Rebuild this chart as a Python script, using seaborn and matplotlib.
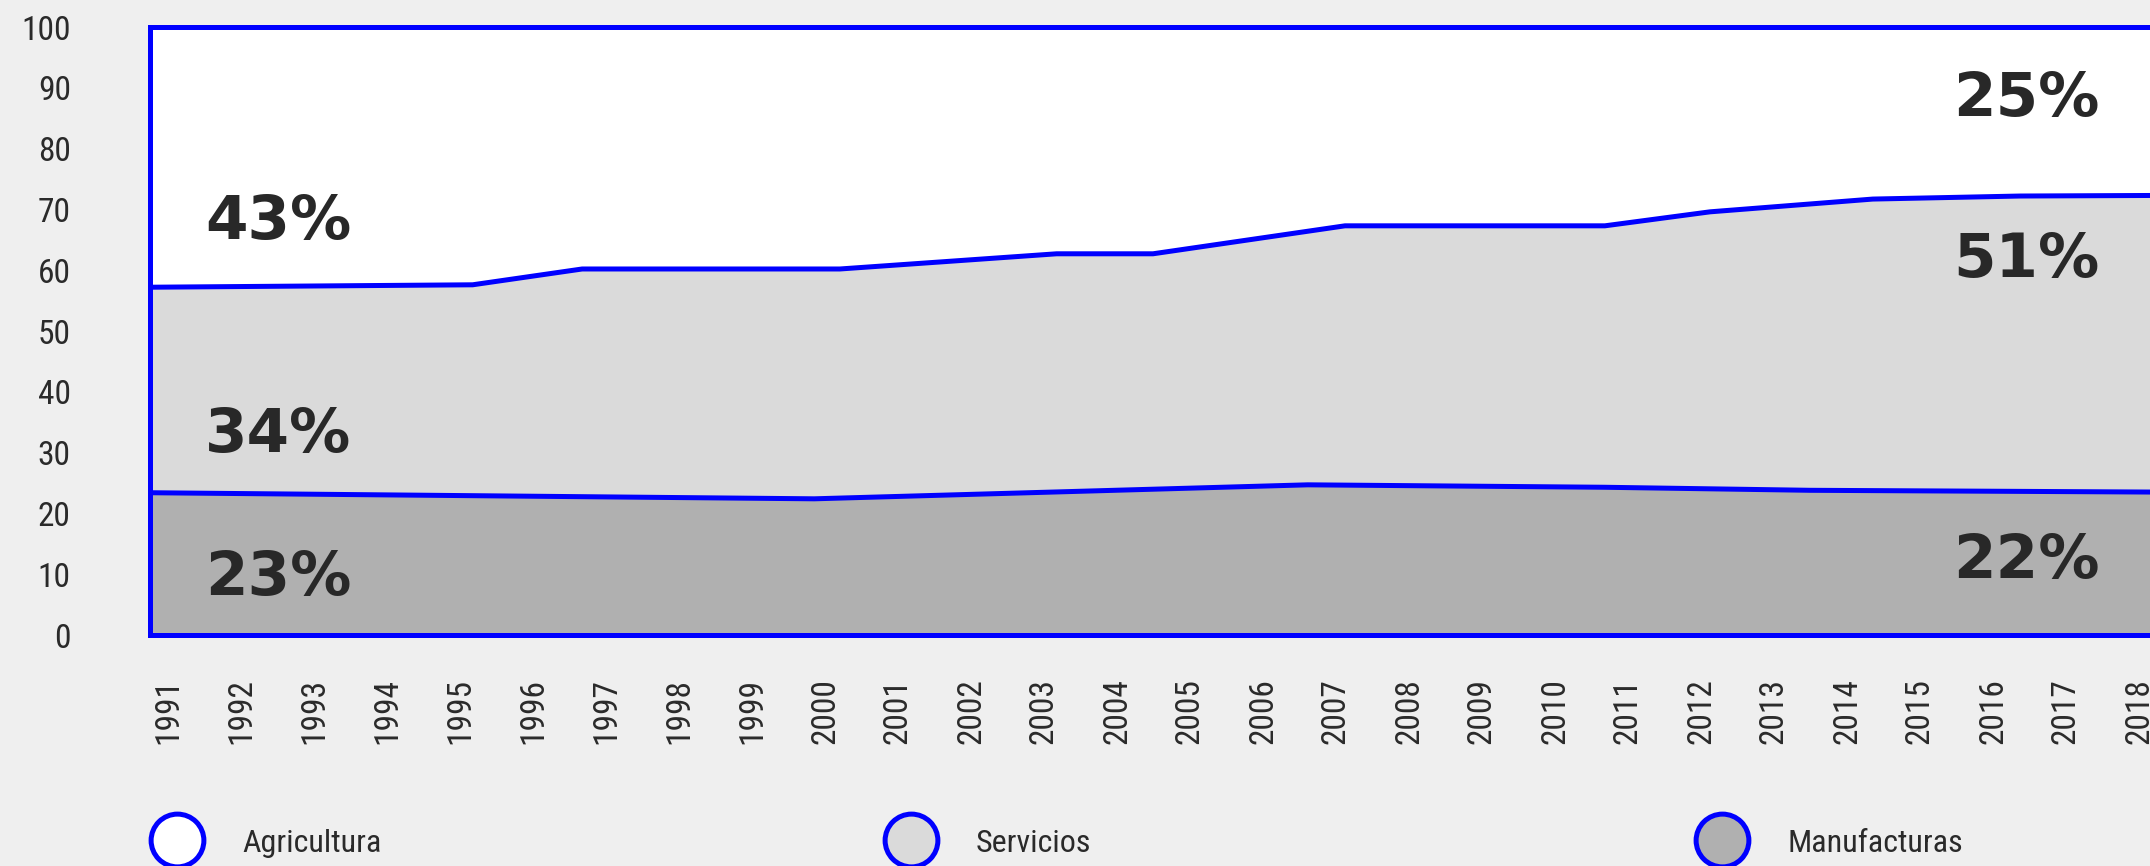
import matplotlib
matplotlib.use("Agg")
import matplotlib.pyplot as plt
import matplotlib.transforms as mtransforms
from matplotlib.lines import Line2D
from matplotlib import font_manager as fm
import seaborn as sns

# Horizontal axis: one label per year
years = list(range(1991, 2019))
y_ticks = list(range(0, 101, 10))

# Upper boundary: Manufacturas + Servicios (% of total); Agricultura fills up to 100
upper_years = [1991.0, 1995.42, 1996.92, 2000.45, 2003.42, 2004.74,
               2007.37, 2010.93, 2012.37, 2014.60, 2016.62, 2018.6]
upper_share = [57.2, 57.6, 60.2, 60.2, 62.7, 62.7,
               67.3, 67.3, 69.6, 71.7, 72.2, 72.3]

# Lower boundary: Manufacturas (% of total)
manuf_years = [1991.0, 2000.10, 2006.86, 2010.92, 2013.74, 2018.6]
manuf_share = [23.4, 22.4, 24.7, 24.3, 23.8, 23.5]

sectors = ["Agricultura", "Servicios", "Manufacturas"]
sector_colors = ["#ffffff", "#dadada", "#b0b0b0"]

# Sector shares printed at the start and at the end of the period
start_labels = ["43%", "34%", "23%"]
end_labels = ["25%", "51%", "22%"]

BLUE = "#0000ff"
INK = "#2a2a2a"
BG = "#efefef"

sns.set_theme(style="white")

# Pick a narrow face for the axis and legend text when one is installed
entries = fm.fontManager.ttflist
names = {f.name for f in entries}
narrow_family, narrow_stretch = None, "normal"
for cand in ["Roboto Condensed", "Liberation Sans Narrow", "Open Sans Condensed",
             "DejaVu Sans Condensed", "Noto Sans Condensed"]:
    if cand in names:
        narrow_family = cand
        break
if narrow_family is None:
    for fam in ["Roboto", "Open Sans", "Noto Sans", "DejaVu Sans"]:
        if any(f.name == fam and "condensed" in str(f.stretch) for f in entries):
            narrow_family, narrow_stretch = fam, "condensed"
            break
if narrow_family is None:
    narrow_family = "Liberation Sans"

plt.rcParams["font.family"] = [narrow_family, "DejaVu Sans"]

AXIS_PT = 24
LEGEND_PT = 23
axis_fp = fm.FontProperties(family=[narrow_family, "DejaVu Sans"],
                            stretch=narrow_stretch, size=AXIS_PT)
legend_fp = fm.FontProperties(family=[narrow_family, "DejaVu Sans"],
                              stretch=narrow_stretch, size=LEGEND_PT)

W, H, DPI = 2150, 866, 100
fig = plt.figure(figsize=(W / DPI, H / DPI), dpi=DPI, facecolor=BG)

x_min, x_max = upper_years[0], upper_years[-1]
px_per_year = 73
left_px, bottom_px, top_px = 150, 231, 27
ax = fig.add_axes([left_px / W, bottom_px / H,
                   (x_max - x_min) * px_per_year / W,
                   (H - top_px - bottom_px) / H])
ax.set_facecolor(sector_colors[0])

# Stacked bands: Servicios up to the upper boundary, Manufacturas below it
ax.fill_between(upper_years, 0, upper_share, color=sector_colors[1], linewidth=0, zorder=1)
ax.fill_between(manuf_years, 0, manuf_share, color=sector_colors[2], linewidth=0, zorder=2)

sns.lineplot(x=upper_years, y=upper_share, ax=ax, color=BLUE, linewidth=3.6,
             zorder=3, estimator=None)
sns.lineplot(x=manuf_years, y=manuf_share, ax=ax, color=BLUE, linewidth=3.6,
             zorder=3, estimator=None)

ax.set_xlim(x_min, x_max)
ax.set_ylim(0, 100)

for side in ["top", "left", "bottom"]:
    ax.spines[side].set_color(BLUE)
    ax.spines[side].set_linewidth(3.6)
    ax.spines[side].set_zorder(4)
ax.spines["right"].set_visible(False)

ax.set_yticks(y_ticks)
ax.set_yticklabels([str(v) for v in y_ticks], fontproperties=axis_fp, color=INK)
ax.set_xticks(years)
ax.set_xticklabels([str(y) for y in years], fontproperties=axis_fp, color=INK,
                   rotation=90)
ax.tick_params(axis="x", length=0, pad=31)
ax.tick_params(axis="y", length=0, pad=57)
ax.grid(False)
ax.set_xlabel("")
ax.set_ylabel("")

shift = mtransforms.ScaledTranslation(0.18, 0, fig.dpi_scale_trans)
for lab in ax.get_xticklabels():
    lab.set_transform(lab.get_transform() + shift)

# Share labels
pct_kw = dict(fontsize=44, fontweight="bold", family="DejaVu Sans", color="#282828",
              va="baseline", zorder=5)
start_x = 1991 + 55 / px_per_year
end_x = 1991 + 1950 / px_per_year
for text, yb in zip(start_labels, [65.1, 30.1, 6.6]):
    ax.text(start_x, yb, text, ha="left", **pct_kw)
for text, yb in zip(end_labels, [85.3, 58.9, 9.3]):
    ax.text(end_x, yb, text, ha="right", **pct_kw)

# Legend: one entry per sector, spread along the bottom
fs_px = LEGEND_PT * DPI / 72
half_box = fs_px / 2
text_gap = (65 - half_box) / fs_px
for name, color, cx in zip(sectors, sector_colors, [177, 911, 1722]):
    handle = Line2D([], [], linestyle="none", marker="o", markersize=38,
                    markerfacecolor=color, markeredgecolor=BLUE, markeredgewidth=3.6)
    fig.legend(handles=[handle], labels=[name], loc="center left",
               bbox_to_anchor=((cx - half_box) / W, (H - 843) / H),
               frameon=False, borderpad=0, borderaxespad=0,
               handlelength=1.0, handletextpad=text_gap, prop=legend_fp,
               labelcolor=INK)

fig.savefig("out.png", dpi=DPI, facecolor=BG)
